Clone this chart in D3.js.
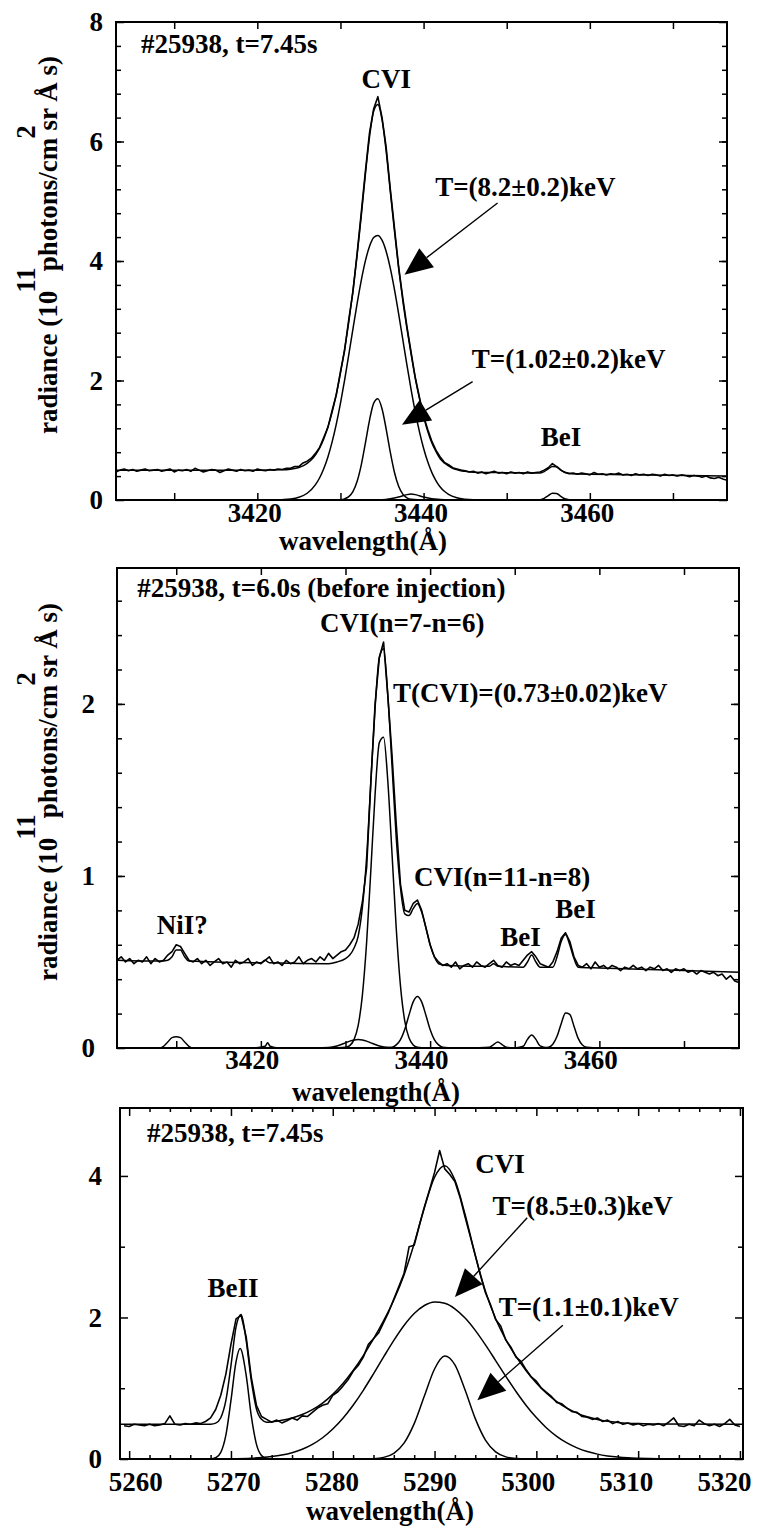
<!DOCTYPE html>
<html>
<head>
<meta charset="utf-8">
<script src="https://cdn.jsdelivr.net/npm/d3@7"></script>
<style>
  body { margin: 0; background: #fff; }
  svg text { font-family: "Liberation Serif", "Times New Roman", serif; font-weight: bold; fill: #000; }
</style>
</head>
<body>
<svg id="chart" width="764" height="1533"></svg>
<script>
// ---------- Panel 1: #25938, t=7.45s, CVI 3434 A ----------
const p1MeasStart = 3403, p1MeasStep = 0.5;
const p1Measured = [
  0.47,0.50,0.52,0.49,0.51,0.48,0.50,0.52,0.49,0.50,
  0.51,0.48,0.50,0.52,0.47,0.50,0.49,0.51,0.48,0.53,
  0.50,0.47,0.49,0.51,0.50,0.46,0.49,0.52,0.50,0.48,
  0.51,0.49,0.50,0.48,0.52,0.50,0.49,0.51,0.50,0.52,
  0.51,0.53,
  0.53,0.56,0.56,0.62,0.65,0.70,0.78,0.88,1.05,1.22,
  1.50,1.76,2.15,2.50,3.02,3.48,4.12,4.80,5.50,6.15,
  6.55,6.75,6.40,5.90,5.20,4.55,3.90,3.38,2.90,2.47,
  2.05,1.72,1.40,1.18,0.98,0.83,0.72,0.63,0.59,0.54,
  0.52,0.50,0.49,0.47,
  0.48,0.45,0.47,0.44,0.46,0.48,0.45,0.46,0.44,0.47,
  0.45,0.46,0.44,0.47,0.45,0.46,0.47,0.50,0.54,0.61,
  0.56,0.50,0.46,0.44,0.45,0.43,0.45,0.44,0.42,0.46,
  0.43,0.44,0.42,0.44,0.43,0.45,0.42,0.43,0.41,0.44,
  0.42,0.43,0.41,0.43,0.42,0.40,0.43,0.41,0.42,0.40,
  0.42,0.41,0.39,0.41,0.40,0.38,0.40,0.37,0.36,0.38,
  0.35,0.33
];
const p1Fit = [
  [3403,0.50],[3410,0.50],[3420,0.50],[3423,0.505],[3424,0.516],[3424.5,0.527],[3425,0.545],
  [3425.5,0.572],[3426,0.613],[3426.5,0.672],[3427,0.757],[3427.5,0.872],[3428,1.026],[3428.5,1.224],
  [3429,1.472],[3429.5,1.770],[3430,2.123],[3430.5,2.527],[3431,2.98],[3431.5,3.50],[3432,4.09],
  [3432.5,4.75],[3433,5.45],[3433.5,6.08],[3434,6.51],[3434.5,6.62],[3435,6.37],[3435.5,5.84],
  [3436,5.16],[3436.5,4.50],[3437,3.88],[3437.5,3.34],[3438,2.87],[3438.5,2.44],[3439,2.04],
  [3439.5,1.70],[3440,1.40],[3440.5,1.15],[3441,0.955],[3441.5,0.81],[3442,0.69],[3442.5,0.62],
  [3443,0.57],[3443.5,0.53],[3444,0.51],[3444.5,0.49],[3445,0.48],[3446,0.465],[3450,0.457],
  [3454,0.45],[3454.5,0.476],[3455,0.52],[3455.5,0.56],[3456,0.555],[3456.5,0.505],[3457,0.465],
  [3458,0.44],[3465,0.424],[3476.5,0.40]
];
// T=(8.2+-0.2) keV component
const p1CompHot = [
  [3419,0],[3422,0.002],[3423,0.006],[3424,0.016],[3425,0.045],[3426,0.113],[3427,0.257],
  [3427.5,0.372],[3428,0.526],[3428.5,0.724],[3429,0.972],[3429.5,1.270],[3430,1.618],[3430.5,2.008],
  [3431,2.428],[3431.5,2.860],[3432,3.283],[3432.5,3.672],[3433,4.001],[3433.5,4.247],[3434,4.393],
  [3434.5,4.428],[3435,4.348],[3435.5,4.160],[3436,3.878],[3436.5,3.522],[3437,3.117],[3437.5,2.687],
  [3438,2.257],[3438.5,1.847],[3439,1.473],[3439.5,1.145],[3440,0.867],[3440.5,0.639],[3441,0.459],
  [3441.5,0.322],[3442,0.219],[3442.5,0.146],[3443,0.094],[3444,0.037],[3445,0.013],[3446,0.004],
  [3448,0],[3450,0]
];
// T=(1.02+-0.2) keV component
const p1CompCold = [
  [3418,0],[3429,0],[3430,0.005],[3430.5,0.019],[3431,0.056],[3431.5,0.141],[3432,0.309],
  [3432.5,0.584],[3433,0.952],[3433.5,1.338],[3434,1.621],[3434.5,1.695],[3435,1.528],[3435.5,1.188],
  [3436,0.797],[3436.5,0.461],[3437,0.230],[3437.5,0.099],[3438,0.037],[3438.5,0.012],[3440,0],[3448,0]
];
const p1CompSmall = [
  [3430,0],[3435,0.005],[3436,0.02],[3437,0.05],[3437.5,0.07],[3438,0.09],[3438.5,0.10],[3439,0.09],
  [3439.5,0.07],[3440,0.05],[3441,0.02],[3442,0.01],[3444,0],[3450,0]
];
const p1CompBeI = [
  [3447,0],[3454,0],[3454.5,0.028],[3455,0.073],[3455.5,0.115],[3456,0.109],[3456.5,0.062],
  [3457,0.021],[3458,0],[3462,0]
];
const p1XTicks = [3410, 3420, 3430, 3440, 3450, 3460, 3470];
const p1XLabels = [3420, 3440, 3460];
const p1YLabels = [0, 2, 4, 6, 8];
const p1Notes = [
  ["#25938, t=7.45s", 3406.0, 7.48, "start"],
  ["CVI", 3435.5, 6.9, "middle"],
  ["T=(8.2±0.2)keV", 3441.4, 5.09, "start"],
  ["T=(1.02±0.2)keV", 3445.8, 2.21, "start"],
  ["BeI", 3454.1, 0.90, "start"]
];
const p1Arrows = [[3448.9, 4.97, 3437.7, 3.77], [3445.9, 1.98, 3437.4, 1.26]];

// ---------- Panel 2: #25938, t=6.0s (before injection) ----------
const p2MeasStart = 3403, p2MeasStep = 0.5;
const p2Measured = [
  0.51,0.53,0.50,0.52,0.49,0.51,0.50,0.53,0.49,0.52,0.50,0.51,0.54,
  0.56,0.60,0.59,0.55,0.51,
  0.50,0.52,0.49,0.51,0.48,0.50,0.52,0.49,0.50,0.47,
  0.51,0.49,0.50,0.52,0.48,0.50,0.49,0.51,0.53,0.49,
  0.50,0.48,0.51,0.49,0.50,0.53,0.49,0.51,0.52,0.50,
  0.53,0.51,0.55,0.52,0.54,
  0.56,0.57,0.60,0.64,0.72,0.85,1.05,1.55,2.00,2.27,
  2.36,2.05,1.70,1.30,0.95,0.80,0.79,0.84,0.86,0.80,
  0.70,0.60,0.53,0.50,
  0.48,0.49,0.47,0.50,0.46,0.48,0.49,0.47,0.50,0.48,
  0.47,0.49,0.51,0.48,0.47,0.50,0.48,0.49,0.48,0.51,
  0.54,0.56,0.53,0.49,0.48,0.47,0.50,0.56,0.64,0.67,
  0.62,0.53,0.48,0.47,0.49,0.46,0.50,0.47,0.48,0.46,
  0.48,0.47,0.45,0.47,0.46,0.48,0.46,0.47,0.45,0.47,
  0.46,0.48,0.45,0.46,0.44,0.46,0.45,0.46,0.44,0.45,
  0.43,0.45,0.44,0.43,0.44,0.42,0.43,0.40,0.42,0.39,0.38
];
const p2Fit = [
  [3403,0.51],[3408,0.505],[3409,0.51],[3409.5,0.53],[3410,0.57],[3410.5,0.57],[3411,0.53],
  [3411.5,0.505],[3420,0.495],[3420.5,0.51],[3421,0.495],[3428,0.49],[3429,0.50],[3430,0.52],
  [3430.5,0.54],[3431,0.58],[3431.5,0.65],[3432,0.82],[3432.5,1.11],[3433,1.55],[3433.5,1.98],
  [3434,2.27],[3434.5,2.32],[3435,2.05],[3435.5,1.64],[3436,1.22],[3436.5,0.93],[3437,0.78],
  [3437.5,0.77],[3438,0.81],[3438.5,0.84],[3439,0.79],[3439.5,0.70],[3440,0.60],[3440.5,0.53],
  [3441,0.49],[3442,0.48],[3447,0.475],[3447.5,0.49],[3448,0.475],[3451,0.47],[3451.5,0.50],
  [3452,0.54],[3452.5,0.50],[3453,0.47],[3454.5,0.47],[3455,0.53],[3455.5,0.62],[3456,0.66],
  [3456.5,0.60],[3457,0.52],[3457.5,0.47],[3460,0.465],[3470,0.45],[3476.5,0.44]
];
const p2CompNi = [
  [3403,0],[3408,0],[3408.5,0.01],[3409,0.035],[3409.5,0.06],[3410,0.065],[3410.5,0.06],
  [3411,0.035],[3411.5,0.01],[3412,0],[3419,0]
];
const p2CompSpike = [[3419,0],[3420.5,0.01],[3420.8,0.03],[3421.1,0.01],[3422,0]];
const p2CompShoulder = [
  [3424,0],[3428,0.003],[3429,0.012],[3430,0.03],[3430.5,0.04],[3431,0.047],[3431.5,0.05],
  [3432,0.047],[3432.5,0.04],[3433,0.03],[3434,0.012],[3435,0.003],[3437,0]
];
const p2CompCVI76 = [
  [3428,0],[3430,0.004],[3430.5,0.014],[3431,0.047],[3431.5,0.131],[3432,0.309],[3432.5,0.616],
  [3433,1.037],[3433.5,1.476],[3434,1.775],[3434.5,1.806],[3435,1.552],[3435.5,1.128],[3436,0.693],
  [3436.5,0.360],[3437,0.158],[3437.5,0.059],[3438,0.018],[3438.5,0.005],[3440,0],[3444,0]
];
const p2CompCVI118 = [
  [3433,0],[3435.5,0.004],[3436,0.018],[3436.5,0.049],[3437,0.108],[3437.5,0.191],[3438,0.268],
  [3438.5,0.30],[3439,0.268],[3439.5,0.191],[3440,0.108],[3440.5,0.049],[3441,0.018],[3441.5,0.005],
  [3443,0]
];
const p2CompSmall = [[3444,0],[3447,0.005],[3447.5,0.02],[3448,0.035],[3448.5,0.02],[3449,0.005],[3450,0]];
const p2CompBeIa = [[3450,0],[3451,0.01],[3451.5,0.05],[3452,0.075],[3452.5,0.05],[3453,0.012],[3454,0]];
const p2CompBeIb = [
  [3453,0],[3454,0.005],[3454.5,0.022],[3455,0.068],[3455.5,0.143],[3456,0.204],[3456.5,0.196],
  [3457,0.127],[3457.5,0.056],[3458,0.017],[3458.5,0.004],[3460,0],[3464,0]
];
const p2XTicks = [3410, 3420, 3430, 3440, 3450, 3460, 3470];
const p2XLabels = [3420, 3440, 3460];
const p2YLabels = [0, 1, 2];
const p2Notes = [
  ["#25938, t=6.0s (before injection)", 3405.4, 2.62, "start"],
  ["CVI(n=7-n=6)", 3427.0, 2.42, "start"],
  ["T(CVI)=(0.73±0.02)keV", 3435.6, 2.01, "start"],
  ["CVI(n=11-n=8)", 3438.1, 0.94, "start"],
  ["BeI", 3454.8, 0.754, "start"],
  ["BeI", 3448.3, 0.59, "start"],
  ["NiI?", 3407.7, 0.66, "start"]
];

// ---------- Panel 3: #25938, t=7.45s, CVI 5290 A ----------
const p3MeasStart = 5259.5, p3MeasStep = 0.5;
const p3Measured = [
  0.47,0.46,0.49,0.48,0.47,0.49,0.47,0.48,0.50,0.61,
  0.49,0.48,0.50,0.49,0.51,0.50,0.53,0.58,0.70,0.90,
  1.20,1.62,1.98,2.03,1.72,1.15,0.76,0.60,0.56,0.52,
  0.55,0.51,0.54,0.58,0.55,0.61,0.60,0.66,0.72,0.76,
  0.78,0.90,0.95,1.03,1.12,1.24,1.32,1.44,1.62,1.70,
  1.78,1.93,2.08,2.26,2.44,2.62,3.00,3.02,3.30,3.56,
  3.80,4.05,4.36,4.10,4.02,3.92,3.70,3.42,3.15,2.88,
  2.60,2.35,2.18,1.97,1.88,1.68,1.58,1.44,1.38,1.26,
  1.16,1.10,1.00,0.94,0.88,0.80,0.78,0.72,0.67,0.66,
  0.60,0.59,0.56,0.58,0.53,0.55,0.50,0.53,0.49,0.51,
  0.48,0.50,0.47,0.49,0.48,0.50,0.47,0.52,0.58,0.47,
  0.46,0.49,0.47,0.55,0.50,0.47,0.49,0.46,0.50,0.56,
  0.48,0.46
];
const p3Fit = [
  [5259.1,0.49],[5267,0.49],[5268,0.492],[5268.5,0.507],[5269,0.583],[5269.5,0.827],[5270,1.32],
  [5270.5,1.867],[5271,2.041],[5271.5,1.67],[5272,1.107],[5272.5,0.711],[5273,0.56],[5273.5,0.52],
  [5274,0.525],[5275,0.546],[5276,0.579],[5277,0.628],[5278,0.697],[5279,0.79],[5280,0.913],
  [5281,1.066],[5282,1.25],[5283,1.462],[5284,1.698],[5285,1.956],[5286,2.247],[5287,2.60],
  [5288,3.045],[5289,3.55],[5290,3.981],[5291,4.144],[5292,3.941],[5293,3.455],[5294,2.878],
  [5295,2.37],[5296,1.982],[5297,1.688],[5298,1.451],[5299,1.248],[5300,1.075],[5301,0.929],
  [5302,0.811],[5303,0.718],[5304,0.648],[5305,0.596],[5306,0.559],[5307,0.534],[5308,0.517],
  [5309,0.506],[5310,0.50],[5312,0.493],[5320.3,0.49]
];
const p3CompBeII = [
  [5264,0],[5267.5,0],[5268,0.002],[5268.5,0.017],[5269,0.093],[5269.5,0.337],[5270,0.828],
  [5270.5,1.377],[5270.9,1.56],[5271.5,1.178],[5272,0.606],[5272.5,0.211],[5273,0.05],[5273.5,0.008],
  [5274,0.001],[5276,0]
];
// T=(8.5+-0.3) keV component
const p3CompHot = [
  [5265,0],[5268,0.001],[5270,0.003],[5272,0.011],[5273,0.02],[5274,0.034],[5275,0.056],[5276,0.089],
  [5277,0.138],[5278,0.207],[5279,0.300],[5280,0.423],[5281,0.576],[5282,0.760],[5283,0.971],
  [5284,1.203],[5285,1.443],[5286,1.676],[5287,1.886],[5288,2.055],[5289,2.169],[5290,2.219],
  [5291,2.200],[5292,2.122],[5293,1.991],[5294,1.817],[5295,1.612],[5296,1.391],[5297,1.168],
  [5298,0.954],[5299,0.757],[5300,0.585],[5301,0.439],[5302,0.321],[5303,0.228],[5304,0.158],
  [5305,0.106],[5306,0.069],[5307,0.044],[5308,0.027],[5309,0.016],[5310,0.010],[5312,0.003],[5315,0]
];
// T=(1.1+-0.1) keV component
const p3CompCold = [
  [5278,0],[5283,0.001],[5284,0.005],[5285,0.023],[5286,0.081],[5287,0.224],[5288,0.500],
  [5289,0.891],[5290,1.272],[5291,1.454],[5292,1.329],[5293,0.974],[5294,0.571],[5295,0.268],
  [5296,0.101],[5297,0.030],[5298,0.007],[5299,0.001],[5303,0]
];
const p3XTicks = [5260, 5270, 5280, 5290, 5300, 5310, 5320];
const p3YLabels = [0, 2, 4];
const p3Notes = [
  ["#25938, t=7.45s", 5261.75, 4.48, "start"],
  ["CVI", 5294.0, 4.04, "start"],
  ["T=(8.5±0.3)keV", 5295.7, 3.45, "start"],
  ["T=(1.1±0.1)keV", 5296.3, 2.02, "start"],
  ["BeII", 5267.7, 2.29, "start"]
];
const p3Arrows = [[5299.1, 3.41, 5292.0, 2.29], [5302.6, 1.89, 5294.2, 0.83]];

// ---------- drawing ----------
const svg = d3.select('#chart');
const FS = 27;

function grid(start, step, values) {
  return values.map((v, i) => [start + i * step, v]);
}

function drawPanel(p) {
  const x = d3.scaleLinear().domain(p.xDomain).range([p.left, p.right]);
  const y = d3.scaleLinear().domain(p.yDomain).range([p.bottom, p.top]);
  const g = svg.append('g');

  const clipId = 'clip-' + p.id;
  svg.append('clipPath').attr('id', clipId)
    .append('rect')
    .attr('x', p.left).attr('y', p.top)
    .attr('width', p.right - p.left).attr('height', p.bottom - p.top);

  const plot = g.append('g').attr('clip-path', `url(#${clipId})`);
  const smooth = d3.line().x(d => x(d[0])).y(d => y(d[1])).curve(d3.curveMonotoneX);
  const raw = d3.line().x(d => x(d[0])).y(d => y(d[1]));

  // fitted components
  p.components.forEach(c => {
    plot.append('path').attr('d', smooth(c))
      .attr('fill', 'none').attr('stroke', '#000').attr('stroke-width', 1.5);
  });
  // total fit
  plot.append('path').attr('d', smooth(p.fit))
    .attr('fill', 'none').attr('stroke', '#000').attr('stroke-width', 1.5);
  // measured spectrum
  plot.append('path').attr('d', raw(p.measured))
    .attr('fill', 'none').attr('stroke', '#000').attr('stroke-width', 1.6)
    .attr('stroke-linejoin', 'round');

  // axes (ticks pointing inward, labels only on bottom and left)
  const styleAxis = sel => {
    sel.select('.domain').remove();
    sel.selectAll('.tick line').attr('stroke-width', 1.5);
    sel.selectAll('text').style('font-size', FS + 'px')
      .style('font-family', '"Liberation Serif", serif').style('font-weight', 'bold');
  };

  g.append('g').attr('transform', `translate(0,${p.bottom})`)
    .call(d3.axisBottom(x).tickValues(p.xTicks).tickSize(-p.xTickLen).tickPadding(p.xPad)
      .tickFormat(d => p.xLabels.includes(d) ? d : ''))
    .call(styleAxis)
    .call(a => a.selectAll('text').attr('dx', d => p.xLabelShift(d)));
  g.append('g').attr('transform', `translate(0,${p.top})`)
    .call(d3.axisTop(x).tickValues(p.xTicks).tickSize(-p.xTickLen).tickFormat(''))
    .call(styleAxis);
  if (p.xMinor) {
    g.append('g').attr('transform', `translate(0,${p.bottom})`)
      .call(d3.axisBottom(x).tickValues(p.xMinor).tickSize(-4).tickFormat(''))
      .call(styleAxis);
    g.append('g').attr('transform', `translate(0,${p.top})`)
      .call(d3.axisTop(x).tickValues(p.xMinor).tickSize(-4).tickFormat(''))
      .call(styleAxis);
  }

  g.append('g').attr('transform', `translate(${p.left},0)`)
    .call(d3.axisLeft(y).tickValues(p.yLabels).tickSize(-8).tickPadding(p.yPad).tickFormat(d3.format('d')))
    .call(styleAxis);
  g.append('g').attr('transform', `translate(${p.left},0)`)
    .call(d3.axisLeft(y).tickValues(p.yMinor).tickSize(-5).tickFormat(''))
    .call(styleAxis);
  g.append('g').attr('transform', `translate(${p.right},0)`)
    .call(d3.axisRight(y).tickValues(p.yLabels).tickSize(-8).tickFormat(''))
    .call(styleAxis);
  g.append('g').attr('transform', `translate(${p.right},0)`)
    .call(d3.axisRight(y).tickValues(p.yMinor).tickSize(-5).tickFormat(''))
    .call(styleAxis);

  // frame
  g.append('rect')
    .attr('x', p.left).attr('y', p.top)
    .attr('width', p.right - p.left).attr('height', p.bottom - p.top)
    .attr('fill', 'none').attr('stroke', '#000').attr('stroke-width', 2);

  // annotations
  p.notes.forEach(n => {
    g.append('text').attr('x', x(n[1])).attr('y', y(n[2]))
      .attr('text-anchor', n[3]).style('font-size', FS + 'px').text(n[0]);
  });

  (p.arrows || []).forEach(a => {
    const x0 = x(a[0]), y0 = y(a[1]), x1 = x(a[2]), y1 = y(a[3]);
    const L = Math.hypot(x1 - x0, y1 - y0);
    const ux = (x1 - x0) / L, uy = (y1 - y0) / L;
    const headLen = 28, headW = 12;
    const bx = x1 - ux * headLen, by = y1 - uy * headLen;
    g.append('line').attr('x1', x0).attr('y1', y0).attr('x2', bx).attr('y2', by)
      .attr('stroke', '#000').attr('stroke-width', 1.4);
    g.append('path')
      .attr('d', `M${x1},${y1}L${bx - uy * headW},${by + ux * headW}L${bx + uy * headW},${by - ux * headW}Z`)
      .attr('fill', '#000');
  });

  // x title
  g.append('text').attr('x', p.xTitle[0]).attr('y', p.xTitle[1])
    .attr('text-anchor', 'middle').style('font-size', FS + 'px').text('wavelength(Å)');

  // y title
  if (p.yTitle) {
    const t = g.append('text')
      .attr('transform', `translate(${p.yTitle[0]},${p.yTitle[1]}) rotate(-90)`)
      .attr('text-anchor', 'middle').style('font-size', FS + 'px');
    t.append('tspan').text('radiance (10');
    t.append('tspan').attr('dy', -22).attr('dx', -2).text('11');
    t.append('tspan').attr('dy', 22).attr('dx', -4).text('photons/cm');
    t.append('tspan').attr('dy', -22).attr('dx', -1).text('2');
    t.append('tspan').attr('dy', 22).attr('dx', -12).text(' sr Å s)');
  }
}

drawPanel({
  id: 'p1', left: 116, right: 727, top: 22, bottom: 500,
  xDomain: [3403, 3476.5], yDomain: [0, 8],
  measured: grid(p1MeasStart, p1MeasStep, p1Measured),
  fit: p1Fit,
  components: [p1CompHot, p1CompCold, p1CompSmall, p1CompBeI],
  xTicks: p1XTicks, xLabels: p1XLabels, xTickLen: 7, xPad: 3, xLabelShift: () => -3,
  yLabels: p1YLabels, yMinor: d3.range(0.4, 8, 0.4), yPad: 13,
  notes: p1Notes, arrows: p1Arrows,
  xTitle: [363, 550], yTitle: [57, 245]
});

drawPanel({
  id: 'p2', left: 117, right: 739, top: 568, bottom: 1048,
  xDomain: [3403, 3476.5], yDomain: [0, 2.79],
  measured: grid(p2MeasStart, p2MeasStep, p2Measured),
  fit: p2Fit,
  components: [p2CompNi, p2CompSpike, p2CompShoulder, p2CompCVI76, p2CompCVI118, p2CompSmall, p2CompBeIa, p2CompBeIb],
  xTicks: p2XTicks, xLabels: p2XLabels, xTickLen: 7, xPad: 2, xLabelShift: () => -9,
  yLabels: p2YLabels, yMinor: d3.range(0.2, 2.79, 0.2), yPad: 22,
  notes: p2Notes,
  xTitle: [376, 1101], yTitle: [57, 792]
});

drawPanel({
  id: 'p3', left: 120, right: 743, top: 1108, bottom: 1459,
  xDomain: [5259.1, 5320.3], yDomain: [0, 4.96],
  measured: grid(p3MeasStart, p3MeasStep, p3Measured),
  fit: p3Fit,
  components: [p3CompBeII, p3CompHot, p3CompCold],
  xTicks: p3XTicks, xLabels: p3XTicks, xTickLen: 8, xPad: 13,
  xLabelShift: d => 6 - (d - 5260) / 60 * 22,
  xMinor: d3.range(5262, 5320, 2).filter(v => v % 10 !== 0),
  yLabels: p3YLabels, yMinor: [1, 3], yPad: 18,
  notes: p3Notes, arrows: p3Arrows,
  xTitle: [390, 1520]
});
</script>
</body>
</html>
